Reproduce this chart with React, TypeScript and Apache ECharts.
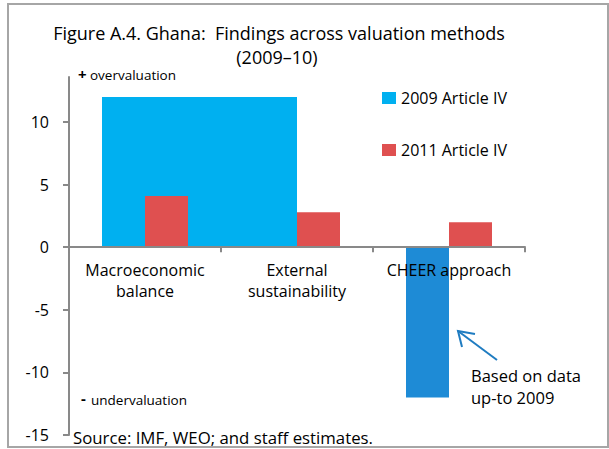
import React, { useEffect, useRef } from "react";
import * as echarts from "echarts";

const categories = ["Macroeconomic\nbalance", "External\nsustainability", "CHEER approach"];
const series2009 = [12, 12, -12];
const series2011 = [4.1, 2.8, 2];
const yTickValues = [-15, -10, -5, 0, 5, 10];
const legendNames = ["2009 Article IV", "2011 Article IV"];

const Y_MIN = -15;
const Y_MAX = 13.6;
const GRID_TOP = 77;
const GRID_BOTTOM = 14;
const CHART_H = 449;
const GRID_H = CHART_H - GRID_TOP - GRID_BOTTOM;
// place the category axis on the zero line
const X_AXIS_OFFSET = -((0 - Y_MIN) / (Y_MAX - Y_MIN)) * GRID_H;

const FONT = "Open Sans";
const BLUE = "#00B0F0";
const BLUE_DARK = "#1E8BD6";
const RED = "#DF5050";
const AXIS = "#898989";

export default function App() {
  const ref = useRef<HTMLDivElement>(null);
  useEffect(() => {
    document.body.style.margin = "0";
    const chart = echarts.init(ref.current!, undefined, { renderer: "svg" });
    chart.setOption({
      animation: false,
      backgroundColor: "#ffffff",
      textStyle: { fontFamily: FONT },
      grid: {
        left: 69,
        right: 84,
        top: GRID_TOP,
        bottom: GRID_BOTTOM,
        containLabel: false,
        outerBoundsMode: "none",
      },
      legend: {
        orient: "vertical",
        left: 377,
        top: 85,
        itemWidth: 14,
        itemHeight: 12,
        itemGap: 36,
        icon: "rect",
        data: legendNames,
        textStyle: { fontFamily: FONT, fontSize: 16, color: "#000" },
      },
      xAxis: {
        type: "category",
        data: categories,
        position: "bottom",
        offset: X_AXIS_OFFSET,
        z: 10,
        axisLine: { onZero: false, lineStyle: { color: AXIS, width: 2 } },
        axisTick: { show: true, length: 5, lineStyle: { color: AXIS, width: 2 } },
        axisLabel: {
          fontFamily: FONT,
          fontSize: 16,
          lineHeight: 21,
          color: "#000",
          margin: 12,
          interval: 0,
        },
        splitLine: { show: false },
      },
      yAxis: {
        type: "value",
        min: Y_MIN,
        max: Y_MAX,
        axisLine: { show: true, lineStyle: { color: AXIS, width: 2 } },
        axisTick: {
          show: true,
          length: 6,
          customValues: yTickValues,
          lineStyle: { color: AXIS, width: 2 },
        },
        axisLabel: {
          fontFamily: FONT,
          fontSize: 16,
          color: "#000",
          margin: 20,
          customValues: yTickValues,
        },
        splitLine: { show: false },
      },
      series: [
        {
          name: legendNames[0],
          type: "bar",
          barWidth: 43,
          barGap: "0%",
          z: 2,
          itemStyle: { color: BLUE },
          data: series2009.map((v, i) =>
            i === 2 ? { value: v, itemStyle: { color: BLUE_DARK } } : v
          ),
        },
        {
          name: legendNames[1],
          type: "bar",
          barWidth: 43,
          barGap: "0%",
          z: 4,
          itemStyle: { color: RED },
          data: series2011,
        },
        {
          name: "2009 range",
          type: "line",
          z: 2,
          symbol: "none",
          silent: true,
          lineStyle: { opacity: 0 },
          data: [],
          markArea: {
            silent: true,
            label: { show: false },
            itemStyle: { color: BLUE, opacity: 1, borderWidth: 0 },
            data: [
              [
                { xAxis: categories[0], yAxis: 0 },
                { xAxis: categories[1], yAxis: series2009[0] },
              ],
            ],
          },
        },
      ],
      graphic: [
        {
          type: "rect",
          shape: { x: 8, y: 4, width: 600, height: 443 },
          style: { fill: "none", stroke: "#A6A6A6", lineWidth: 2 },
          silent: true,
        },
        {
          type: "text",
          x: 279,
          y: 33,
          style: {
            text: "Figure A.4. Ghana:  Findings across valuation methods",
            fontFamily: FONT,
            fontSize: 18,
            fill: "#000",
            textAlign: "center",
            textVerticalAlign: "middle",
          },
        },
        {
          type: "text",
          x: 277,
          y: 57,
          style: {
            text: "(2009–10)",
            fontFamily: FONT,
            fontSize: 18,
            fill: "#000",
            textAlign: "center",
            textVerticalAlign: "middle",
          },
        },
        {
          type: "text",
          x: 78,
          y: 74,
          style: {
            text: "+",
            fontFamily: FONT,
            fontSize: 15,
            fontWeight: "bold",
            fill: "#000",
            textVerticalAlign: "middle",
          },
        },
        {
          type: "text",
          x: 90,
          y: 75,
          style: {
            text: "overvaluation",
            fontFamily: FONT,
            fontSize: 13.5,
            fill: "#000",
            textVerticalAlign: "middle",
          },
        },
        {
          type: "text",
          x: 81,
          y: 398,
          style: {
            text: "-",
            fontFamily: FONT,
            fontSize: 15,
            fontWeight: "bold",
            fill: "#000",
            textVerticalAlign: "middle",
          },
        },
        {
          type: "text",
          x: 91,
          y: 400,
          style: {
            text: "undervaluation",
            fontFamily: FONT,
            fontSize: 13.5,
            fill: "#000",
            textVerticalAlign: "middle",
          },
        },
        {
          type: "text",
          x: 73,
          y: 437,
          style: {
            text: "Source: IMF, WEO; and staff estimates.",
            fontFamily: FONT,
            fontSize: 16.8,
            fill: "#000",
            textVerticalAlign: "middle",
          },
        },
        {
          type: "text",
          x: 471,
          y: 386,
          style: {
            text: "Based on data\nup-to 2009",
            fontFamily: FONT,
            fontSize: 16.5,
            lineHeight: 22,
            fill: "#000",
            textVerticalAlign: "middle",
          },
        },
        {
          type: "line",
          shape: { x1: 497, y1: 360, x2: 458, y2: 331 },
          style: { stroke: "#1F7CC1", lineWidth: 2 },
        },
        {
          type: "polyline",
          shape: { points: [[462, 347], [458, 331], [475, 334]] },
          style: { stroke: "#1F7CC1", lineWidth: 2, fill: "none" },
        },
      ],
    });
    return () => chart.dispose();
  }, []);
  return <div ref={ref} style={{ width: 609, height: 449 }} />;
}
